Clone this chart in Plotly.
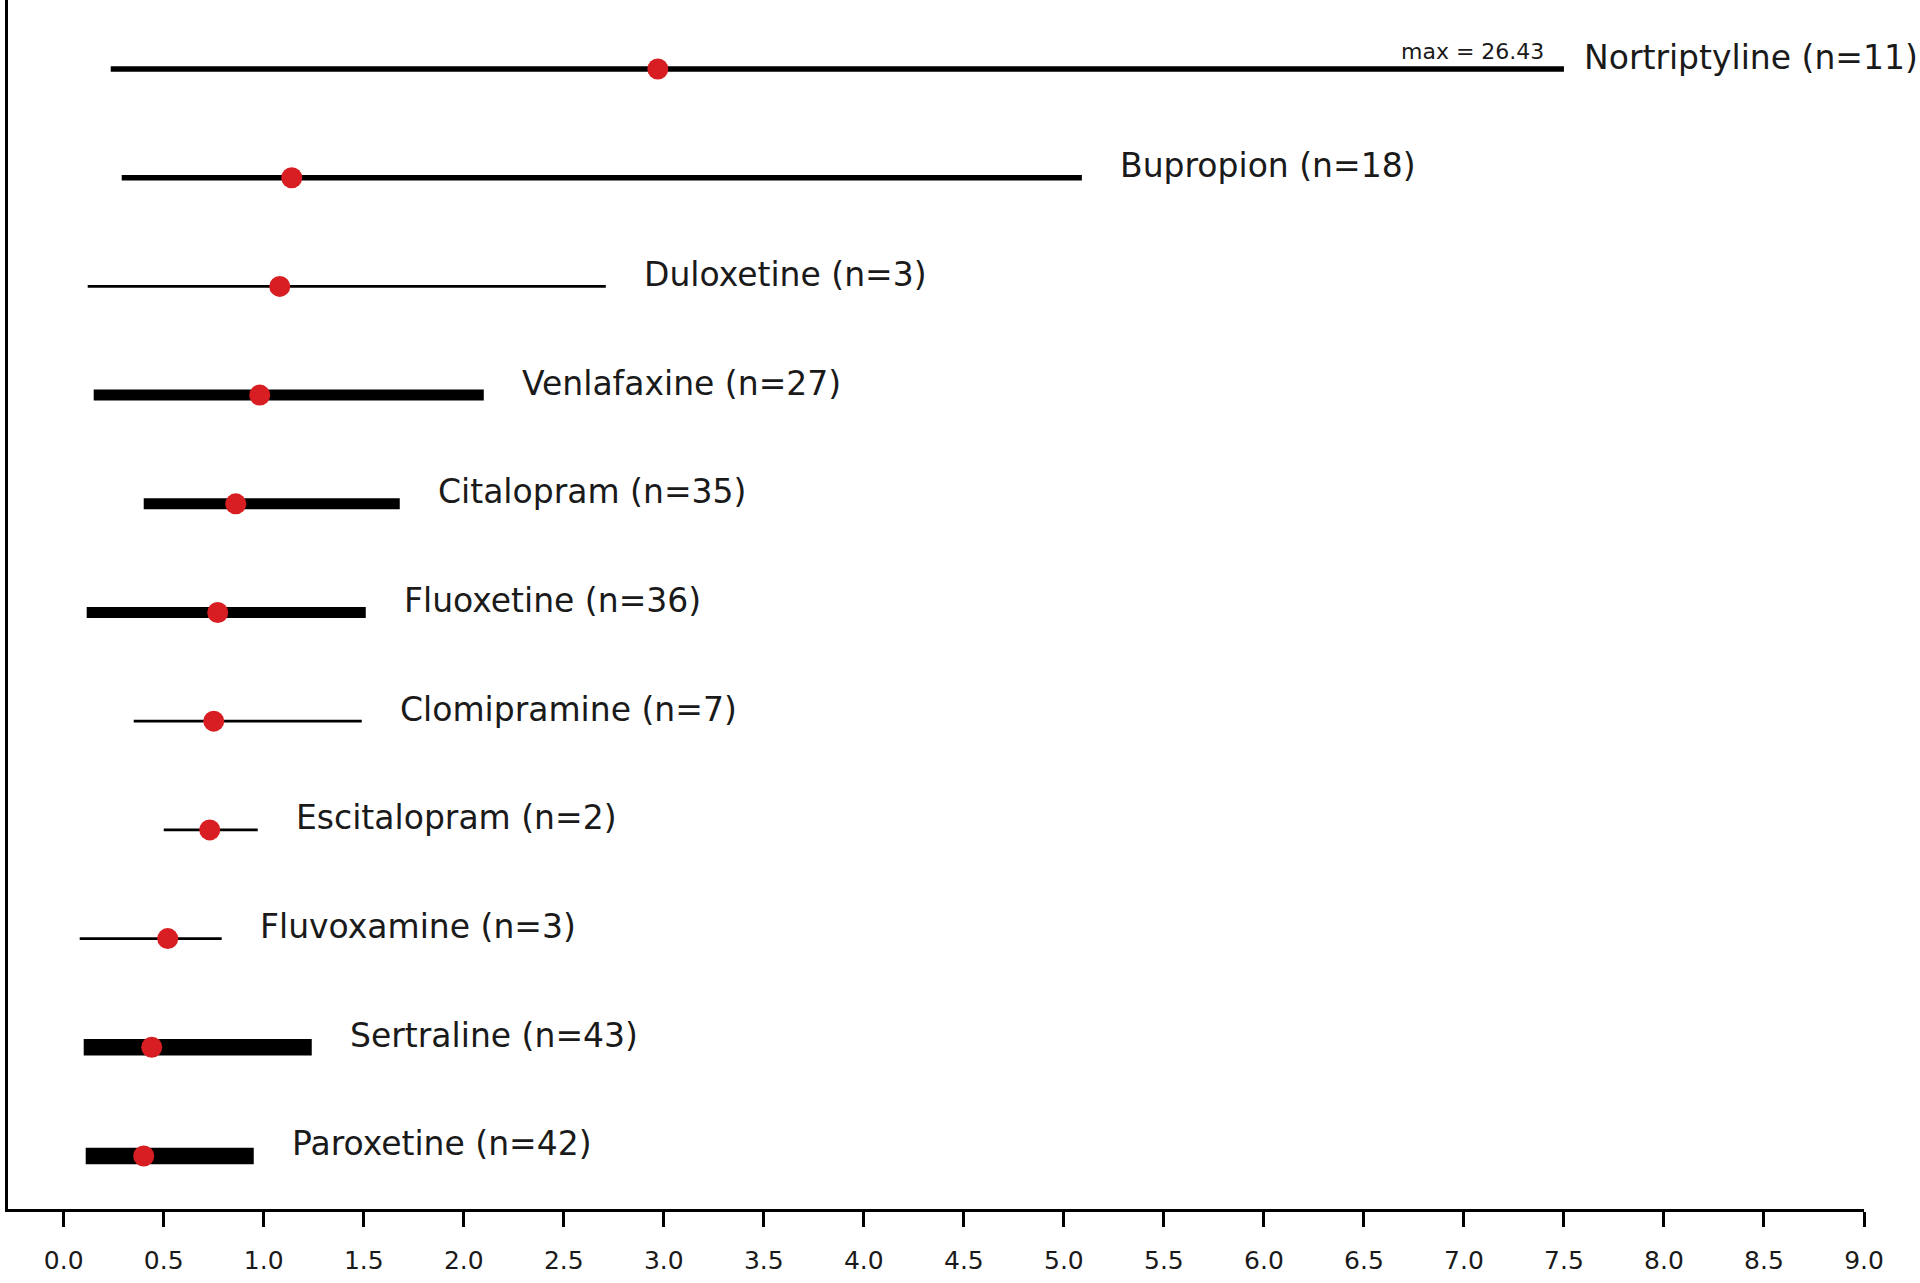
import plotly.graph_objects as go

# ---- data ----
drugs = ["Paroxetine", "Sertraline", "Fluvoxamine", "Escitalopram", "Clomipramine",
         "Fluoxetine", "Citalopram", "Venlafaxine", "Duloxetine", "Bupropion", "Nortriptyline"]
n_obs = [42, 43, 3, 2, 7, 36, 35, 27, 3, 18, 11]
low = [0.11, 0.10, 0.08, 0.50, 0.35, 0.115, 0.40, 0.15, 0.12, 0.29, 0.235]
high = [0.95, 1.24, 0.79, 0.97, 1.49, 1.51, 1.68, 2.10, 2.71, 5.09, 26.43]
median = [0.40, 0.44, 0.52, 0.73, 0.75, 0.77, 0.86, 0.98, 1.08, 1.14, 2.97]
x_cap = 7.5
x_ticks = [0.0, 0.5, 1.0, 1.5, 2.0, 2.5, 3.0, 3.5, 4.0, 4.5, 5.0, 5.5, 6.0, 6.5, 7.0, 7.5, 8.0, 8.5, 9.0]

FONT = "DejaVu Sans"
RED = "#d81e22"


def width_for(n):
    # line width grows with sample size
    if n < 10:
        return 2.8
    if n < 20:
        return 5.5
    if n < 40:
        return 11
    return 16.5


fig = go.Figure()
annotations = []
for i, name in enumerate(drugs):
    hi_shown = min(high[i], x_cap)
    fig.add_trace(go.Scatter(
        x=[low[i], hi_shown], y=[i, i], mode="lines",
        line=dict(color="black", width=width_for(n_obs[i])),
        hoverinfo="skip", showlegend=False))
    clipped = high[i] > x_cap
    annotations.append(dict(
        x=hi_shown + (0.09 if clipped else 0.18), y=i, xref="x", yref="y",
        text=f"{name} (n={n_obs[i]})", showarrow=False,
        xanchor="left", yanchor="middle", yshift=12,
        font=dict(family=FONT, size=33, color="#1a1a1a")))
    if clipped:
        annotations.append(dict(
            x=hi_shown - 0.09, y=i, xref="x", yref="y",
            text=f"max = {high[i]:.2f}", showarrow=False,
            xanchor="right", yanchor="bottom", yshift=3,
            font=dict(family=FONT, size=22, color="#1a1a1a")))

fig.add_trace(go.Scatter(
    x=median, y=list(range(len(drugs))), mode="markers",
    marker=dict(color=RED, size=21, line=dict(width=0)),
    hoverinfo="skip", showlegend=False))

fig.update_layout(
    width=1920, height=1283,
    margin=dict(l=8, r=56, t=0, b=74),
    paper_bgcolor="white", plot_bgcolor="white",
    annotations=annotations,
    xaxis=dict(range=[-0.2785, 9.0], tickvals=x_ticks,
               ticktext=[f"{v:.1f}" for v in x_ticks],
               showgrid=False, zeroline=False,
               showline=True, linecolor="black", linewidth=3.3,
               ticks="outside", ticklen=15, tickwidth=3.3, tickcolor="black",
               ticklabelstandoff=12,
               tickfont=dict(family=FONT, size=25, color="#1a1a1a")),
    yaxis=dict(range=[-0.488, 10.635], showgrid=False, zeroline=False,
               showticklabels=False, ticks="",
               showline=True, linecolor="black", linewidth=3),
)

fig.write_html("out.html",
               config={"displayModeBar": False},
               post_script="document.body.style.margin='0';document.body.style.overflow='hidden';")
